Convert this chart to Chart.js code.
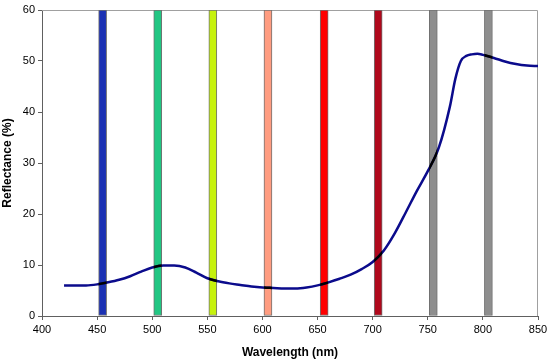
<!DOCTYPE html>
<html>
<head>
<meta charset="utf-8">
<script src="https://cdn.jsdelivr.net/npm/chart.js@4/dist/chart.umd.min.js"></script>
<style>
  html, body { margin: 0; padding: 0; background: #fff; }
  #wrap { width: 552px; height: 362px; }
</style>
</head>
<body>
<div id="wrap"><canvas id="chart"></canvas></div>
<script>
// === Data ===
const wavelengths = [420, 430, 440, 450, 460, 470, 480, 490, 500, 510, 520, 530, 540, 550,
    560, 570, 580, 590, 600, 610, 620, 630, 640, 650, 660, 670, 680, 690, 700, 710, 720,
    730, 740, 750, 760, 770, 775, 780, 785, 790, 795, 800, 810, 820, 830, 840, 850];
const reflectance = [6.0, 6.0, 6.0, 6.2, 6.6, 7.1, 7.8, 8.7, 9.5, 9.9, 9.9, 9.5, 8.5, 7.4,
    6.8, 6.4, 6.1, 5.8, 5.6, 5.5, 5.4, 5.4, 5.6, 6.0, 6.6, 7.3, 8.1, 9.2, 10.6, 12.8, 16.2,
    20.3, 24.5, 28.4, 33.0, 41.0, 46.5, 50.0, 51.0, 51.3, 51.4, 51.2, 50.6, 49.9, 49.4, 49.1, 49.0];

const bandCenters = [455, 505, 555, 605, 656, 705, 755, 805];
const bandColors = ['#1b31b3', '#22c683', '#c6f20c', '#ff9c80', '#ff0000', '#b0081c', '#8e8e8e', '#8e8e8e'];

const xTicks = [400, 450, 500, 550, 600, 650, 700, 750, 800, 850];
const yTicks = [0, 10, 20, 30, 40, 50, 60];

const BAR_PX = 8;
const FONT = 'Arial, "Liberation Sans", sans-serif';

// curve turns black where it runs across a band
const bandOverlay = {
    id: 'bandOverlay',
    afterDatasetsDraw(chart) {
        const meta = chart.getDatasetMeta(1);
        const line = meta.dataset;
        if (!line) return;
        const { ctx, chartArea } = chart;
        const xs = chart.scales.x;
        const orig = line.options.borderColor;
        line.options.borderColor = '#000000';
        bandCenters.forEach(c => {
            const px = xs.getPixelForValue(c);
            ctx.save();
            ctx.beginPath();
            ctx.rect(px - BAR_PX / 2, chartArea.top, BAR_PX, chartArea.bottom - chartArea.top);
            ctx.clip();
            line.draw(ctx, chartArea);
            ctx.restore();
        });
        line.options.borderColor = orig;
    },
    beforeDatasetsDraw(chart) {
        const { ctx, chartArea: a } = chart;
        ctx.save();
        ctx.strokeStyle = '#a0a0a0';
        ctx.lineWidth = 1;
        ctx.beginPath();
        ctx.moveTo(a.left, a.top + 0.5);
        ctx.lineTo(a.right - 0.5, a.top + 0.5);
        ctx.lineTo(a.right - 0.5, a.bottom);
        ctx.stroke();
        ctx.restore();
    }
};

new Chart(document.getElementById('chart'), {
    type: 'bar',
    data: {
        datasets: [{
            type: 'bar',
            label: 'Bands',
            data: bandCenters.map(c => ({ x: c, y: [0, 60] })),
            backgroundColor: bandColors,
            borderColor: '#707070',
            borderWidth: 1,
            borderSkipped: false,
            barThickness: BAR_PX,
            order: 2
        }, {
            type: 'line',
            label: 'Reflectance',
            data: wavelengths.map((w, i) => ({ x: w, y: reflectance[i] })),
            borderColor: '#0b0b8c',
            borderWidth: 2.5,
            pointRadius: 0,
            cubicInterpolationMode: 'monotone',
            fill: false,
            order: 1
        }]
    },
    options: {
        responsive: true,
        maintainAspectRatio: false,
        animation: false,
        layout: { padding: { top: 10, right: 14, left: 0, bottom: 0 } },
        plugins: {
            legend: { display: false },
            tooltip: { enabled: false }
        },
        scales: {
            x: {
                type: 'linear',
                offset: false,
                min: 400,
                max: 850,
                afterBuildTicks: s => { s.ticks = xTicks.map(v => ({ value: v })); },
                afterFit: s => { s.height = 46; },
                grid: { drawOnChartArea: false, drawTicks: true, tickLength: 4, color: '#606060', offset: false },
                border: { display: true, color: '#606060', width: 1 },
                ticks: { color: '#000', padding: 3, font: { family: FONT, size: 11 }, maxRotation: 0 },
                title: { display: true, text: 'Wavelength (nm)', color: '#000', padding: { top: 0, bottom: 2 },
                    font: { family: FONT, size: 12, weight: 'bold' } }
            },
            y: {
                min: 0,
                max: 60,
                afterBuildTicks: s => { s.ticks = yTicks.map(v => ({ value: v })); },
                afterFit: s => { s.width = 42; },
                grid: { drawOnChartArea: false, drawTicks: true, tickLength: 4, color: '#606060' },
                border: { display: true, color: '#606060', width: 1 },
                ticks: { color: '#000', padding: 3, font: { family: FONT, size: 11 } },
                title: { display: true, text: 'Reflectance (%)', color: '#000', padding: 0,
                    font: { family: FONT, size: 12, weight: 'bold' } }
            }
        }
    },
    plugins: [bandOverlay]
});
</script>
</body>
</html>
